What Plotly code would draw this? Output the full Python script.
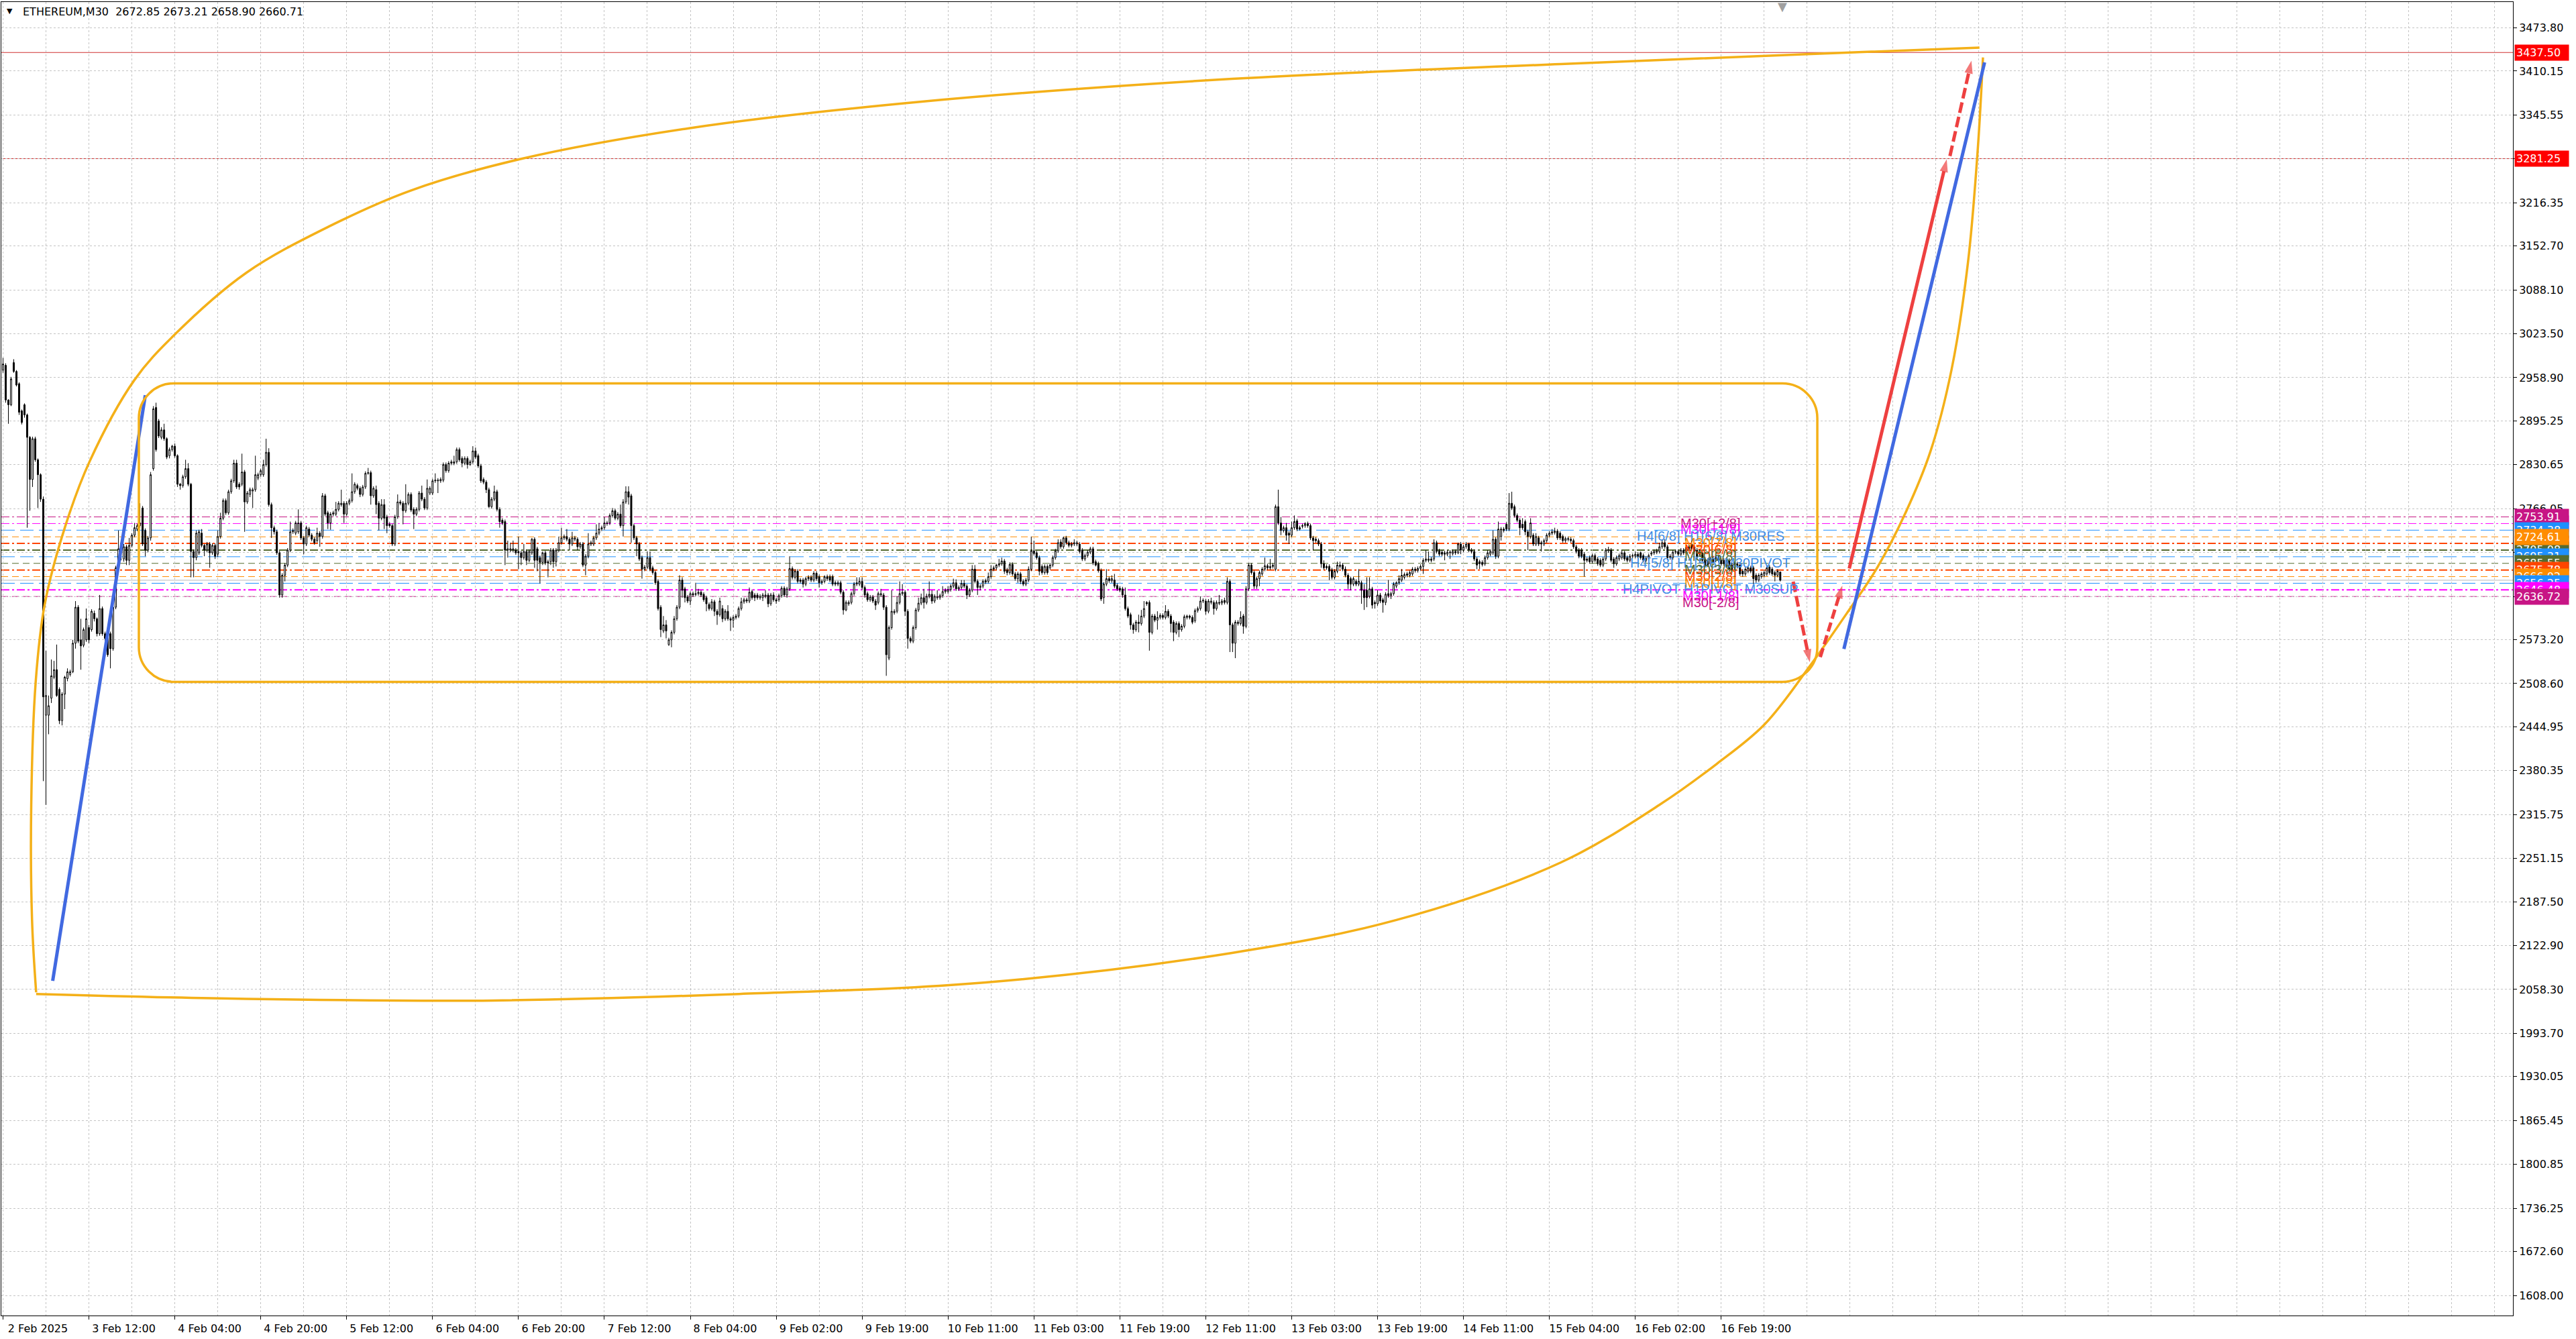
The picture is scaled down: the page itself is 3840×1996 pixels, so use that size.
import plotly.graph_objects as go

# ------------------------------------------------------------------ data
title_text = "ETHEREUM,M30\u00a0\u00a02672.85 2673.21 2658.90 2660.71"

time_labels = ["2 Feb 2025", "3 Feb 12:00", "4 Feb 04:00", "4 Feb 20:00", "5 Feb 12:00",
               "6 Feb 04:00", "6 Feb 20:00", "7 Feb 12:00", "8 Feb 04:00", "9 Feb 02:00",
               "9 Feb 19:00", "10 Feb 11:00", "11 Feb 03:00", "11 Feb 19:00", "12 Feb 11:00",
               "13 Feb 03:00", "13 Feb 19:00", "14 Feb 11:00", "15 Feb 04:00", "16 Feb 02:00",
               "16 Feb 19:00"]
bars_per_label = 32

price_ticks = [3473.80, 3410.15, 3345.55, 3280.95, 3216.35, 3152.70, 3088.10, 3023.50,
               2958.90, 2895.25, 2830.65, 2766.05, 2701.45, 2636.85, 2573.20, 2508.60,
               2444.95, 2380.35, 2315.75, 2251.15, 2187.50, 2122.90, 2058.30, 1993.70,
               1930.05, 1865.45, 1800.85, 1736.25, 1672.60, 1608.00]
hidden_ticks = [3280.95, 2701.45, 2636.85]

opens = [
    2970, 2977, 2926, 2919, 2981, 2968, 2950, 2910, 2919, 2904,
    2871, 2809, 2869, 2838, 2816, 2780, 2462, 2462, 2487, 2518,
    2529, 2500, 2454, 2493, 2516, 2522, 2526, 2568, 2621, 2573,
    2565, 2573, 2591, 2588, 2612, 2604, 2582, 2619, 2582, 2577,
    2582, 2560, 2621, 2679, 2701, 2692, 2710, 2690, 2712, 2727,
    2736, 2741, 2767, 2734, 2705, 2723, 2825, 2915, 2895, 2871,
    2882, 2869, 2844, 2853, 2858, 2844, 2802, 2800, 2813, 2825,
    2802, 2703, 2694, 2701, 2730, 2712, 2705, 2714, 2701, 2712,
    2699, 2725, 2752, 2778, 2760, 2791, 2807, 2833, 2802, 2802,
    2820, 2776, 2787, 2792, 2794, 2811, 2816, 2816, 2831, 2849,
    2772, 2738, 2732, 2701, 2639, 2668, 2683, 2705, 2732, 2730,
    2732, 2745, 2723, 2714,
    2736, 2727, 2721, 2719, 2730, 2725, 2785, 2760, 2745, 2758,
    2758, 2765, 2772, 2774, 2758, 2774, 2778, 2791, 2800, 2796,
    2787, 2798, 2818, 2819, 2785, 2794, 2774, 2752, 2772, 2754,
    2743, 2741, 2714, 2754, 2776, 2774, 2763, 2774, 2787, 2765,
    2758, 2765, 2789, 2780, 2767, 2789, 2789, 2807, 2807, 2807,
    2808, 2831, 2822, 2833, 2833, 2835, 2853, 2840, 2833, 2840,
    2831, 2835, 2851, 2844, 2829, 2809, 2805, 2794, 2769, 2780,
    2791, 2765, 2749, 2747, 2705, 2705, 2705, 2705, 2703, 2701,
    2694, 2703, 2690, 2701, 2721, 2707, 2694, 2687, 2701, 2688,
    2688, 2705, 2688, 2705, 2716, 2723, 2725, 2721, 2714, 2721,
    2721, 2710, 2714, 2683, 2696, 2714, 2714, 2723, 2730, 2736,
    2738, 2744, 2745, 2756, 2763, 2752, 2758, 2741, 2776, 2791,
    2785, 2741, 2723, 2714, 2694, 2677, 2680, 2694, 2679, 2672,
    2659, 2621, 2586, 2595, 2566, 2573, 2584, 2604, 2621, 2661,
    2648, 2636, 2630, 2641, 2641, 2641, 2643, 2640, 2635, 2625,
    2619, 2629, 2615, 2610, 2619, 2604, 2615, 2604, 2602, 2606,
    2608, 2619, 2629, 2632, 2630, 2644, 2639, 2639, 2635, 2635,
    2637, 2639, 2626, 2639, 2632, 2632, 2638, 2649, 2639, 2648,
    2678, 2665, 2674, 2661, 2661, 2655, 2663, 2665, 2661, 2671,
    2666, 2657, 2659, 2666, 2666, 2666, 2657, 2655, 2657, 2643,
    2617, 2626, 2628, 2641, 2655, 2655, 2659, 2650, 2641, 2632,
    2636, 2630, 2628, 2639, 2639, 2621, 2546, 2591, 2613, 2615,
    2628, 2641, 2643, 2615, 2575, 2571, 2591, 2617, 2627, 2635,
    2628, 2637, 2640, 2630, 2635, 2635, 2638, 2644, 2644, 2647,
    2652, 2657, 2648, 2650, 2656, 2652, 2639, 2646, 2677, 2659,
    2650, 2652, 2660, 2659, 2666, 2677, 2679, 2683, 2685, 2689,
    2676, 2672, 2684, 2670, 2663, 2670, 2659, 2655, 2661, 2677,
    2704, 2701, 2694, 2681, 2672, 2681, 2679, 2683, 2694, 2704,
    2717, 2710, 2723, 2716, 2712, 2714, 2714, 2714, 2705, 2692,
    2697, 2702, 2707, 2688, 2685, 2675, 2635, 2655, 2663, 2660,
    2661, 2653, 2649, 2648, 2639, 2619, 2610, 2595, 2588, 2599,
    2597, 2608, 2628, 2628, 2584, 2608, 2602, 2606, 2609, 2606,
    2615, 2608, 2599, 2584, 2597, 2588, 2593, 2606, 2608, 2606,
    2601, 2616, 2619, 2630, 2630, 2615, 2628, 2628, 2619, 2628,
    2627, 2631, 2628, 2659, 2595, 2568, 2597, 2597, 2608, 2593,
    2648, 2683, 2672, 2652, 2663, 2670, 2677, 2682, 2679, 2681,
    2677, 2769, 2745, 2734, 2738, 2730, 2727, 2738, 2748, 2738,
    2740, 2741, 2744, 2741, 2723, 2721, 2719, 2714, 2685, 2681,
    2681, 2676, 2665, 2674, 2681, 2683, 2677, 2668, 2663, 2655,
    2659, 2655, 2657, 2646, 2646, 2637, 2648, 2628, 2626, 2639,
    2632, 2628, 2641, 2638, 2641, 2652, 2657, 2661, 2665, 2670,
    2668, 2670, 2677, 2675, 2678, 2681, 2690, 2690, 2692, 2692,
    2716, 2704, 2702, 2701, 2699, 2701, 2700, 2703, 2701, 2714,
    2705, 2710, 2714, 2705, 2703, 2692, 2688, 2687, 2685, 2694,
    2699, 2701, 2721, 2696, 2725, 2736, 2743, 2736, 2774, 2769,
    2756, 2749, 2743, 2747, 2732, 2725, 2727, 2714, 2723, 2716,
    2714, 2719, 2727, 2730, 2731, 2733, 2730, 2725, 2719, 2722,
    2721, 2719, 2710, 2705, 2705, 2699, 2692, 2694, 2688, 2697,
    2692, 2690, 2683, 2692, 2704, 2705, 2692, 2685, 2692, 2694,
    2701, 2694, 2690, 2696, 2696, 2699, 2701, 2697, 2690, 2693,
    2699, 2701, 2702, 2703, 2710, 2716, 2710, 2696, 2694, 2702,
    2703, 2699, 2705, 2701, 2710, 2714, 2710, 2705, 2703, 2701,
    2692, 2690, 2685, 2692, 2690, 2694, 2690, 2690, 2683, 2690,
    2683, 2679, 2685, 2683, 2674, 2670, 2674, 2679, 2679, 2668,
    2661, 2666, 2668, 2670, 2680, 2677, 2672, 2668, 2672.85,
]

highs = [
    2988, 2980, 2927, 2960, 2986, 2970, 2952, 2912, 2921, 2906,
    2873, 2872, 2872, 2840, 2818, 2784, 2557, 2491, 2544, 2542,
    2566, 2503, 2496, 2520, 2531, 2529, 2573, 2630, 2624, 2604,
    2591, 2619, 2595, 2618, 2616, 2606, 2639, 2622, 2585, 2580,
    2585, 2624, 2682, 2734, 2710, 2714, 2713, 2723, 2730, 2745,
    2744, 2774, 2770, 2737, 2726, 2820, 2917, 2922, 2898, 2886,
    2891, 2871, 2856, 2860, 2862, 2846, 2804, 2816, 2838, 2833,
    2804, 2706, 2734, 2735, 2736, 2714, 2717, 2717, 2715, 2715,
    2734, 2760, 2781, 2781, 2794, 2810, 2838, 2838, 2805, 2847,
    2823, 2792, 2797, 2797, 2844, 2819, 2825, 2838, 2869, 2855,
    2775, 2741, 2735, 2704, 2671, 2686, 2708, 2747, 2737, 2748,
    2765, 2748, 2726, 2741,
    2739, 2730, 2724, 2738, 2733, 2789, 2788, 2763, 2761, 2763,
    2776, 2777, 2794, 2777, 2777, 2781, 2818, 2805, 2803, 2799,
    2801, 2821, 2826, 2822, 2799, 2800, 2777, 2780, 2780, 2757,
    2746, 2744, 2757, 2787, 2779, 2777, 2802, 2790, 2790, 2768,
    2768, 2792, 2800, 2783, 2809, 2799, 2810, 2818, 2811, 2812,
    2834, 2834, 2836, 2838, 2844, 2856, 2856, 2843, 2843, 2843,
    2838, 2858, 2856, 2847, 2832, 2812, 2808, 2797, 2783, 2800,
    2794, 2768, 2752, 2750, 2719, 2716, 2719, 2708, 2725, 2704,
    2714, 2706, 2706, 2723, 2724, 2710, 2697, 2703, 2704, 2691,
    2708, 2708, 2708, 2725, 2738, 2728, 2736, 2724, 2732, 2726,
    2724, 2717, 2717, 2699, 2730, 2719, 2726, 2743, 2745, 2741,
    2754, 2748, 2759, 2767, 2766, 2761, 2772, 2780, 2799, 2799,
    2788, 2744, 2726, 2717, 2697, 2683, 2703, 2703, 2682, 2675,
    2662, 2624, 2608, 2602, 2576, 2587, 2608, 2624, 2668, 2665,
    2651, 2639, 2644, 2644, 2657, 2648, 2646, 2643, 2638, 2628,
    2633, 2632, 2618, 2635, 2624, 2618, 2624, 2607, 2609, 2611,
    2622, 2635, 2635, 2635, 2650, 2647, 2642, 2642, 2640, 2642,
    2646, 2642, 2642, 2643, 2635, 2641, 2652, 2652, 2651, 2696,
    2681, 2677, 2677, 2664, 2664, 2666, 2668, 2668, 2674, 2674,
    2669, 2662, 2668, 2669, 2669, 2669, 2660, 2660, 2660, 2646,
    2631, 2631, 2644, 2658, 2665, 2665, 2665, 2653, 2644, 2639,
    2639, 2633, 2644, 2648, 2642, 2624, 2594, 2646, 2618, 2637,
    2659, 2655, 2646, 2618, 2578, 2594, 2620, 2635, 2641, 2648,
    2641, 2659, 2646, 2640, 2646, 2641, 2652, 2649, 2652, 2655,
    2663, 2662, 2653, 2661, 2661, 2655, 2649, 2683, 2683, 2662,
    2655, 2662, 2663, 2672, 2683, 2682, 2685, 2692, 2694, 2692,
    2679, 2687, 2687, 2673, 2673, 2673, 2662, 2664, 2681, 2725,
    2719, 2704, 2697, 2684, 2684, 2684, 2686, 2697, 2707, 2721,
    2721, 2725, 2726, 2719, 2717, 2721, 2719, 2717, 2708, 2700,
    2705, 2710, 2710, 2691, 2688, 2678, 2658, 2677, 2666, 2668,
    2670, 2656, 2652, 2651, 2650, 2622, 2613, 2598, 2602, 2610,
    2617, 2630, 2630, 2631, 2611, 2611, 2615, 2612, 2612, 2624,
    2618, 2611, 2602, 2600, 2600, 2596, 2610, 2610, 2610, 2609,
    2619, 2622, 2637, 2634, 2633, 2633, 2635, 2631, 2631, 2639,
    2633, 2635, 2665, 2662, 2598, 2602, 2602, 2615, 2611, 2652,
    2686, 2686, 2675, 2666, 2675, 2680, 2694, 2685, 2692, 2686,
    2772, 2794, 2754, 2741, 2745, 2733, 2747, 2756, 2751, 2741,
    2744, 2746, 2747, 2744, 2726, 2724, 2722, 2717, 2690, 2684,
    2684, 2679, 2677, 2688, 2688, 2686, 2681, 2671, 2666, 2666,
    2662, 2677, 2660, 2655, 2665, 2665, 2651, 2631, 2646, 2642,
    2635, 2643, 2661, 2644, 2658, 2659, 2668, 2677, 2672, 2673,
    2675, 2680, 2680, 2681, 2684, 2693, 2705, 2703, 2695, 2721,
    2719, 2707, 2705, 2704, 2705, 2705, 2706, 2706, 2716, 2717,
    2713, 2717, 2716, 2708, 2706, 2695, 2691, 2690, 2697, 2705,
    2706, 2734, 2724, 2747, 2739, 2739, 2746, 2789, 2791, 2772,
    2759, 2752, 2752, 2750, 2735, 2752, 2730, 2730, 2726, 2719,
    2722, 2730, 2733, 2736, 2738, 2736, 2733, 2728, 2725, 2725,
    2724, 2722, 2713, 2708, 2708, 2702, 2695, 2697, 2700, 2700,
    2695, 2693, 2695, 2708, 2710, 2708, 2695, 2697, 2700, 2705,
    2704, 2697, 2699, 2700, 2703, 2702, 2703, 2700, 2696, 2700,
    2704, 2706, 2707, 2716, 2721, 2721, 2713, 2699, 2705, 2706,
    2706, 2708, 2708, 2712, 2713, 2719, 2713, 2708, 2706, 2704,
    2695, 2693, 2695, 2695, 2697, 2697, 2693, 2693, 2692, 2693,
    2686, 2688, 2688, 2686, 2677, 2680, 2682, 2682, 2682, 2671,
    2671, 2673, 2675, 2683, 2683, 2680, 2675, 2677, 2673.21,
]

lows = [
    2966, 2922, 2891, 2917, 2966, 2946, 2904, 2890, 2900, 2738,
    2763, 2798, 2835, 2767, 2776, 2365, 2330, 2434, 2480, 2515,
    2489, 2449, 2447, 2471, 2512, 2519, 2524, 2560, 2568, 2529,
    2562, 2570, 2568, 2585, 2600, 2578, 2579, 2579, 2572, 2548,
    2531, 2557, 2618, 2676, 2690, 2688, 2683, 2683, 2709, 2724,
    2733, 2738, 2711, 2696, 2702, 2719, 2822, 2850, 2870, 2868,
    2866, 2839, 2840, 2850, 2841, 2798, 2794, 2797, 2810, 2799,
    2665, 2665, 2690, 2698, 2709, 2696, 2702, 2679, 2698, 2692,
    2695, 2722, 2749, 2757, 2757, 2788, 2804, 2795, 2794, 2799,
    2732, 2773, 2783, 2767, 2791, 2808, 2813, 2813, 2828, 2769,
    2723, 2728, 2698, 2635, 2635, 2659, 2680, 2702, 2729, 2727,
    2729, 2720, 2699, 2711,
    2724, 2718, 2713, 2716, 2710, 2722, 2755, 2736, 2735, 2755,
    2755, 2762, 2769, 2745, 2755, 2771, 2775, 2788, 2793, 2783,
    2784, 2795, 2816, 2772, 2782, 2758, 2734, 2749, 2736, 2730,
    2738, 2711, 2711, 2751, 2771, 2743, 2760, 2771, 2761, 2736,
    2755, 2762, 2777, 2764, 2764, 2786, 2786, 2804, 2789, 2804,
    2805, 2819, 2819, 2830, 2830, 2832, 2835, 2827, 2830, 2825,
    2829, 2832, 2839, 2826, 2804, 2802, 2789, 2767, 2766, 2777,
    2762, 2738, 2742, 2683, 2694, 2702, 2702, 2698, 2677, 2683,
    2691, 2683, 2687, 2698, 2679, 2674, 2656, 2683, 2683, 2665,
    2683, 2679, 2681, 2702, 2713, 2720, 2718, 2705, 2711, 2718,
    2705, 2707, 2680, 2668, 2693, 2711, 2711, 2720, 2727, 2733,
    2735, 2741, 2742, 2753, 2749, 2749, 2738, 2725, 2773, 2772,
    2716, 2720, 2696, 2689, 2663, 2674, 2677, 2674, 2669, 2654,
    2616, 2577, 2583, 2575, 2564, 2562, 2581, 2601, 2618, 2635,
    2628, 2627, 2624, 2636, 2637, 2638, 2636, 2629, 2615, 2616,
    2616, 2608, 2595, 2607, 2599, 2601, 2601, 2586, 2591, 2603,
    2605, 2616, 2626, 2627, 2627, 2632, 2630, 2632, 2632, 2630,
    2634, 2621, 2623, 2629, 2626, 2629, 2635, 2636, 2635, 2645,
    2662, 2662, 2656, 2656, 2650, 2652, 2660, 2658, 2658, 2660,
    2650, 2654, 2656, 2660, 2658, 2652, 2652, 2652, 2640, 2610,
    2615, 2623, 2625, 2638, 2652, 2652, 2647, 2635, 2629, 2629,
    2627, 2617, 2625, 2636, 2617, 2520, 2543, 2588, 2610, 2612,
    2625, 2638, 2608, 2560, 2568, 2568, 2588, 2614, 2624, 2619,
    2625, 2634, 2626, 2627, 2632, 2632, 2635, 2641, 2641, 2644,
    2649, 2645, 2645, 2647, 2649, 2633, 2636, 2643, 2656, 2639,
    2646, 2649, 2655, 2656, 2663, 2674, 2676, 2680, 2682, 2670,
    2668, 2669, 2667, 2660, 2657, 2655, 2652, 2652, 2658, 2674,
    2697, 2691, 2668, 2669, 2669, 2669, 2676, 2680, 2691, 2701,
    2707, 2707, 2713, 2709, 2709, 2711, 2711, 2700, 2689, 2689,
    2694, 2699, 2683, 2681, 2672, 2630, 2626, 2652, 2657, 2657,
    2649, 2645, 2643, 2635, 2616, 2605, 2588, 2582, 2585, 2584,
    2594, 2605, 2623, 2557, 2581, 2599, 2588, 2603, 2603, 2603,
    2605, 2584, 2571, 2581, 2577, 2585, 2590, 2603, 2603, 2596,
    2598, 2613, 2616, 2627, 2610, 2612, 2625, 2610, 2616, 2624,
    2624, 2625, 2625, 2555, 2555, 2546, 2594, 2594, 2582, 2590,
    2645, 2669, 2648, 2648, 2652, 2667, 2674, 2676, 2676, 2678,
    2674, 2742, 2727, 2731, 2719, 2714, 2724, 2735, 2733, 2734,
    2737, 2738, 2738, 2720, 2705, 2716, 2711, 2679, 2676, 2676,
    2661, 2662, 2662, 2671, 2678, 2674, 2665, 2648, 2646, 2652,
    2652, 2652, 2626, 2617, 2621, 2634, 2619, 2619, 2623, 2627,
    2613, 2624, 2635, 2633, 2638, 2649, 2654, 2658, 2662, 2665,
    2665, 2667, 2672, 2672, 2675, 2670, 2687, 2687, 2687, 2689,
    2700, 2696, 2696, 2690, 2696, 2692, 2697, 2698, 2699, 2699,
    2702, 2707, 2702, 2700, 2689, 2677, 2677, 2681, 2682, 2691,
    2696, 2698, 2692, 2693, 2719, 2731, 2733, 2733, 2764, 2753,
    2746, 2727, 2735, 2727, 2705, 2722, 2711, 2711, 2711, 2703,
    2711, 2716, 2724, 2727, 2728, 2720, 2720, 2716, 2716, 2718,
    2716, 2707, 2700, 2693, 2693, 2666, 2687, 2685, 2685, 2687,
    2682, 2680, 2680, 2689, 2701, 2687, 2679, 2682, 2689, 2691,
    2689, 2687, 2687, 2693, 2693, 2693, 2691, 2687, 2687, 2690,
    2696, 2698, 2699, 2700, 2707, 2707, 2690, 2691, 2691, 2699,
    2696, 2696, 2698, 2698, 2704, 2704, 2700, 2693, 2696, 2687,
    2680, 2680, 2682, 2685, 2687, 2687, 2682, 2682, 2680, 2674,
    2674, 2676, 2678, 2667, 2666, 2667, 2671, 2671, 2655, 2657,
    2658, 2663, 2665, 2667, 2669, 2667, 2659, 2665, 2658.90,
]

closes = [
    2979, 2926, 2919, 2957, 2968, 2948, 2908, 2893, 2904, 2871,
    2809, 2869, 2838, 2816, 2780, 2489, 2491, 2476, 2520, 2529,
    2491, 2454, 2493, 2518, 2526, 2526, 2568, 2621, 2571, 2564,
    2588, 2604, 2573, 2615, 2604, 2582, 2619, 2582, 2575, 2551,
    2560, 2621, 2679, 2707, 2705, 2710, 2690, 2712, 2727, 2738,
    2741, 2745, 2714, 2705, 2723, 2816, 2913, 2853, 2873, 2882,
    2869, 2842, 2853, 2858, 2844, 2802, 2800, 2813, 2825, 2802,
    2703, 2694, 2730, 2732, 2712, 2705, 2714, 2701, 2712, 2696,
    2725, 2752, 2778, 2760, 2791, 2807, 2833, 2798, 2798, 2820,
    2776, 2789, 2794, 2794, 2816, 2816, 2822, 2831, 2849, 2772,
    2738, 2732, 2701, 2639, 2668, 2683, 2705, 2732, 2734, 2745,
    2745, 2723, 2714, 2738,
    2727, 2721, 2716, 2730, 2725, 2785, 2758, 2745, 2758, 2760,
    2765, 2774, 2774, 2758, 2774, 2778, 2791, 2802, 2796, 2787,
    2798, 2818, 2819, 2785, 2796, 2772, 2752, 2772, 2752, 2741,
    2741, 2714, 2754, 2776, 2774, 2763, 2774, 2787, 2764, 2758,
    2765, 2789, 2780, 2767, 2796, 2796, 2807, 2808, 2808, 2809,
    2831, 2822, 2833, 2835, 2835, 2853, 2838, 2833, 2840, 2831,
    2835, 2851, 2842, 2829, 2807, 2805, 2794, 2769, 2780, 2791,
    2765, 2747, 2745, 2705, 2707, 2707, 2707, 2701, 2701, 2694,
    2703, 2690, 2703, 2721, 2690, 2690, 2687, 2701, 2686, 2686,
    2705, 2688, 2705, 2716, 2723, 2725, 2721, 2714, 2723, 2723,
    2710, 2714, 2683, 2696, 2714, 2716, 2723, 2730, 2736, 2738,
    2745, 2745, 2756, 2763, 2752, 2758, 2741, 2776, 2791, 2783,
    2741, 2723, 2714, 2692, 2677, 2680, 2694, 2677, 2672, 2657,
    2619, 2588, 2595, 2586, 2573, 2584, 2604, 2621, 2661, 2646,
    2635, 2630, 2641, 2639, 2640, 2643, 2639, 2632, 2626, 2619,
    2629, 2615, 2610, 2630, 2604, 2615, 2604, 2602, 2606, 2608,
    2619, 2629, 2632, 2630, 2643, 2635, 2635, 2635, 2637, 2639,
    2639, 2626, 2639, 2632, 2630, 2638, 2649, 2639, 2648, 2678,
    2665, 2674, 2659, 2659, 2655, 2663, 2665, 2661, 2671, 2663,
    2657, 2659, 2666, 2663, 2661, 2655, 2655, 2657, 2643, 2617,
    2628, 2628, 2641, 2655, 2657, 2659, 2650, 2639, 2632, 2636,
    2630, 2624, 2641, 2641, 2621, 2551, 2591, 2615, 2615, 2628,
    2641, 2643, 2615, 2575, 2571, 2591, 2617, 2627, 2635, 2628,
    2637, 2640, 2630, 2637, 2636, 2638, 2644, 2646, 2647, 2652,
    2657, 2648, 2650, 2656, 2652, 2639, 2646, 2677, 2659, 2650,
    2652, 2659, 2658, 2666, 2677, 2679, 2683, 2685, 2689, 2674,
    2672, 2684, 2670, 2663, 2670, 2659, 2655, 2661, 2677, 2704,
    2700, 2694, 2674, 2672, 2681, 2672, 2683, 2694, 2704, 2716,
    2710, 2723, 2716, 2712, 2714, 2716, 2716, 2703, 2692, 2697,
    2702, 2707, 2686, 2683, 2675, 2633, 2655, 2663, 2660, 2663,
    2652, 2648, 2646, 2639, 2619, 2608, 2595, 2588, 2599, 2597,
    2608, 2619, 2626, 2584, 2608, 2602, 2606, 2609, 2606, 2615,
    2608, 2597, 2584, 2597, 2588, 2593, 2607, 2608, 2606, 2599,
    2616, 2619, 2630, 2631, 2615, 2630, 2630, 2619, 2628, 2627,
    2630, 2628, 2659, 2595, 2568, 2599, 2599, 2606, 2593, 2648,
    2683, 2672, 2652, 2663, 2672, 2677, 2682, 2679, 2681, 2683,
    2769, 2745, 2734, 2738, 2727, 2727, 2738, 2747, 2736, 2736,
    2741, 2744, 2741, 2723, 2719, 2719, 2714, 2685, 2679, 2679,
    2674, 2665, 2674, 2683, 2683, 2677, 2668, 2655, 2655, 2663,
    2655, 2659, 2646, 2635, 2635, 2648, 2624, 2626, 2639, 2630,
    2628, 2640, 2638, 2641, 2655, 2657, 2663, 2668, 2669, 2668,
    2672, 2677, 2675, 2678, 2681, 2690, 2692, 2692, 2690, 2716,
    2703, 2699, 2699, 2699, 2702, 2702, 2703, 2701, 2714, 2705,
    2710, 2714, 2705, 2703, 2692, 2683, 2685, 2684, 2694, 2701,
    2703, 2721, 2696, 2736, 2736, 2734, 2736, 2774, 2767, 2756,
    2749, 2738, 2738, 2732, 2725, 2745, 2714, 2725, 2714, 2714,
    2719, 2727, 2730, 2732, 2733, 2723, 2723, 2719, 2722, 2721,
    2719, 2710, 2703, 2696, 2696, 2690, 2690, 2688, 2697, 2690,
    2685, 2683, 2692, 2705, 2706, 2690, 2685, 2694, 2697, 2701,
    2692, 2690, 2696, 2697, 2699, 2696, 2694, 2690, 2693, 2697,
    2701, 2703, 2704, 2710, 2716, 2710, 2694, 2694, 2702, 2703,
    2699, 2705, 2701, 2709, 2707, 2707, 2703, 2696, 2699, 2690,
    2683, 2683, 2692, 2688, 2694, 2690, 2685, 2685, 2690, 2677,
    2677, 2685, 2681, 2670, 2670, 2677, 2679, 2674, 2663, 2661,
    2668, 2670, 2672, 2679, 2672, 2670, 2668, 2674, 2660.71,
]

# Murrey math levels (top to bottom) and their names
murrey_levels = [2753.91, 2744.14, 2734.38, 2724.61, 2714.84, 2705.08, 2695.31,
                 2685.55, 2675.78, 2666.02, 2656.25, 2646.48, 2636.72]
murrey_names = ["M30[+2/8]", "M30[+1/8]", "H4[6/8] H1[6/8] M30RES", "M30[7/8]", "M30[6/8]",
                "M30[5/8]", "H4[5/8] H1[5/8] M30PIVOT", "M30[3/8]", "M30[2/8]", "M30[1/8]",
                "H4PIVOT H1PIVOT M30SUP", "M30[-1/8]", "M30[-2/8]"]
target_levels = [3437.50, 3281.25]
bid_price = 2660.71

# hand-drawn objects, in (bar index, price)
range_box_x = [50.6, 675.8]
range_box_y = [2511.1, 2950.4]
lens_top_x = [12.34, 10.81, 10.51, 12.22, 15.52, 23.05, 32.23, 48.87, 63.74, 90.67, 121.26,
              151.86, 192.24, 255.88, 341.54, 457.8, 580.2, 672.0, 736.2]
lens_top_y = [2054.1, 2160.6, 2329.8, 2513.6, 2624.9, 2738.5, 2835.3, 2955.0, 3021.5, 3113.4,
              3181.1, 3234.3, 3280.2, 3326.2, 3364.9, 3398.7, 3420.5, 3435.0, 3444.7]
lens_bot_x = [12.34, 90.7, 182.5, 274.2, 366.0, 457.8, 519.0, 580.2, 616.9, 638.3, 656.1,
              673.2, 687.3, 698.3, 708.7, 717.9, 725.8, 731.9, 735.6, 737.5]
lens_bot_y = [2051.7, 2044.5, 2042.1, 2051.7, 2068.6, 2112.2, 2160.6, 2245.2, 2329.8, 2390.3,
              2448.3, 2535.4, 2615.0, 2680.5, 2760.3, 2849.8, 2970.7, 3127.9, 3297.1, 3430.2]
blue_leg1_x = [18.5, 53.0]
blue_leg1_y = [2071.0, 2933.0]
blue_leg2_x = [685.7, 738.1]
blue_leg2_y = [2559.6, 3422.9]
red_up_x = [687.7, 724.0]
red_up_y = [2678.1, 3280.2]
red_up2_x = [725.2, 733.2]
red_up2_y = [3285.1, 3425.3]
red_down_x = [666.8, 673.0]
red_down_y = [2658.7, 2540.2]
red_rebound_x = [676.9, 685.1]
red_rebound_y = [2547.5, 2652.7]
label_bar = 636

# ------------------------------------------------------------------ styles
FONT = "DejaVu Sans, Verdana, sans-serif"
LABEL_FONT = "Arial, Liberation Sans, sans-serif"
GRID = "#C4C4C4"
ORANGE = "#F4B018"
BLUE = "#4169E1"
RED = "#EE4040"
TEXT_BLUE = "#3F8DE6"
murrey_colors = ["#C71585", "#FF00FF", "#1E90FF", "#FF8C00", "#FF4500", "#556B2F", "#1E90FF",
                 "#556B2F", "#FF4500", "#FF8C00", "#1E90FF", "#FF00FF", "#C71585"]
murrey_text_colors = ["#C71585", "#FF00FF", TEXT_BLUE, "#FF8C00", "#FF4500", "#556B2F", TEXT_BLUE,
                      "#556B2F", "#FF4500", "#FF8C00", TEXT_BLUE, "#FF00FF", "#C71585"]
murrey_dash = ["12px,4px,3px,4px", "12px,4px,3px,4px", "20px,8px", "10px,6px", "12px,4px,3px,4px",
               "12px,4px,3px,4px", "20px,8px", "10px,6px", "12px,4px,3px,4px", "10px,6px",
               "20px,8px", "12px,4px,3px,4px", "10px,6px"]
murrey_width = [1, 1, 1, 1, 2, 2, 1, 1, 2, 1, 1, 2, 1]

# pixel geometry of the MT4 window
W, H = 3840, 1996
PL, PR, PT, PB = 2, 3746, 3, 1961
FIRST_BAR_PX, BAR_PX = 4.5, 4.002
x_lo = (PL - FIRST_BAR_PX) / BAR_PX
x_hi = (PR - FIRST_BAR_PX) / BAR_PX
y_hi, y_lo = 3511.8, 1578.4

n = min(len(opens), len(highs), len(lows), len(closes))
xs = list(range(n))
o, c = opens[:n], closes[:n]
h = [max(a, b, d) for a, b, d in zip(highs[:n], o, c)]
l = [min(a, b, d) for a, b, d in zip(lows[:n], o, c)]

fig = go.Figure()
fig.add_trace(go.Candlestick(
    x=xs, open=o, high=h, low=l, close=c,
    increasing=dict(line=dict(color="black", width=1), fillcolor="white"),
    decreasing=dict(line=dict(color="black", width=1), fillcolor="black"),
    whiskerwidth=0, showlegend=False, hoverinfo="skip"))

# lens-shaped curve
for lx, ly in [(lens_top_x, lens_top_y), (lens_bot_x, lens_bot_y)]:
    fig.add_trace(go.Scatter(x=lx, y=ly, mode="lines",
                             line=dict(color=ORANGE, width=3.5, shape="spline", smoothing=1.0),
                             hoverinfo="skip", showlegend=False))
# blue legs
for bx, by in [(blue_leg1_x, blue_leg1_y), (blue_leg2_x, blue_leg2_y)]:
    fig.add_trace(go.Scatter(x=bx, y=by, mode="lines", line=dict(color=BLUE, width=5),
                             hoverinfo="skip", showlegend=False))
# red arrows
for rx_, ry_, dash in [(red_up_x, red_up_y, "solid"), (red_up2_x, red_up2_y, "16px,6px"),
                       (red_down_x, red_down_y, "16px,6px"), (red_rebound_x, red_rebound_y, "14px,6px")]:
    fig.add_trace(go.Scatter(x=rx_, y=ry_, mode="lines+markers",
                             line=dict(color=RED, width=5, dash=dash),
                             marker=dict(symbol=["circle", "arrow"], size=[0, 20], angleref="previous",
                                         color=RED, line=dict(width=0)),
                             hoverinfo="skip", showlegend=False))

shapes = []
for lv, col, ds, wd in zip(murrey_levels, murrey_colors, murrey_dash, murrey_width):
    shapes.append(dict(type="line", xref="paper", x0=0, x1=1, yref="y", y0=lv, y1=lv,
                       line=dict(color=col, width=wd, dash=ds), layer="below"))
for lv in target_levels:
    shapes.append(dict(type="line", xref="paper", x0=0, x1=1, yref="y", y0=lv, y1=lv,
                       line=dict(color="#D03030", width=1), layer="below"))
shapes.append(dict(type="line", xref="paper", x0=0, x1=1, yref="y", y0=bid_price, y1=bid_price,
                   line=dict(color="#B8B8B8", width=1), layer="below"))

# rounded range box
x0, x1 = range_box_x
y0, y1 = range_box_y
rx, ry, k = 13.0, 51.0, 0.5523
path = (f"M {x0+rx},{y1} L {x1-rx},{y1} "
        f"C {x1-rx+k*rx},{y1} {x1},{y1-ry+k*ry} {x1},{y1-ry} "
        f"L {x1},{y0+ry} "
        f"C {x1},{y0+ry-k*ry} {x1-rx+k*rx},{y0} {x1-rx},{y0} "
        f"L {x0+rx},{y0} "
        f"C {x0+rx-k*rx},{y0} {x0},{y0+ry-k*ry} {x0},{y0+ry} "
        f"L {x0},{y1-ry} "
        f"C {x0},{y1-ry+k*ry} {x0+rx-k*rx},{y1} {x0+rx},{y1} Z")
shapes.append(dict(type="path", xref="x", yref="y", path=path,
                   line=dict(color=ORANGE, width=3.5), fillcolor="rgba(0,0,0,0)", layer="above"))

annotations = []
for lv, name, col in zip(murrey_levels, murrey_names, murrey_text_colors):
    annotations.append(dict(x=label_bar, y=lv, xref="x", yref="y", text=name, showarrow=False,
                            xanchor="center", yanchor="middle", yshift=-9,
                            font=dict(family=LABEL_FONT, size=20, color=col)))
order = [1, 0, 2, 4, 5, 6, 7, 8, 9, 10, 11, 12, 3]
for i in order:
    annotations.append(dict(x=1, xref="paper", xshift=2, xanchor="left", y=murrey_levels[i], yref="y",
                            text=f"{murrey_levels[i]:.2f}", showarrow=False, bgcolor=murrey_colors[i],
                            width=76, align="left", borderpad=2,
                            font=dict(family=FONT, size=16, color="white")))
for lv in target_levels:
    annotations.append(dict(x=1, xref="paper", xshift=2, xanchor="left", y=lv, yref="y",
                            text=f"{lv:.2f}", showarrow=False, bgcolor="#FF0000",
                            width=76, align="left", borderpad=2,
                            font=dict(family=FONT, size=16, color="white")))
annotations.append(dict(x=0, xref="paper", xshift=6, xanchor="left", y=1, yref="paper", yanchor="top",
                        yshift=-5, text="\u25BC", showarrow=False, font=dict(family=FONT, size=11, color="black")))
annotations.append(dict(x=0, xref="paper", xshift=30, xanchor="left", y=1, yref="paper", yanchor="top",
                        yshift=-3, text=title_text, showarrow=False, font=dict(family=FONT, size=16, color="black")))
annotations.append(dict(x=n - 0.3, xref="x", xanchor="center", y=1, yref="paper", yanchor="top",
                        yshift=6, text="\u25BC", showarrow=False, font=dict(family=FONT, size=18, color="#A0A0A0")))

major_vals = [i * bars_per_label for i in range(len(time_labels))]
minor_vals = [v for v in range(16, int(x_hi) + 1, 16) if v not in major_vals]
y_text = ["" if t in hidden_ticks else f"{t:.2f}" for t in price_ticks]

fig.update_layout(
    width=W, height=H,
    margin=dict(l=PL, r=W - PR, t=PT, b=H - PB, pad=0),
    paper_bgcolor="white", plot_bgcolor="white", showlegend=False,
    font=dict(family=FONT, size=16, color="black"),
    shapes=shapes, annotations=annotations,
    xaxis=dict(range=[x_lo, x_hi], tickmode="array", tickvals=major_vals, ticktext=time_labels,
               ticks="outside", ticklen=5, tickcolor="black", tickangle=0, ticklabelshift=52,
               showgrid=True, gridcolor=GRID, griddash="3px,3px", gridwidth=1,
               showline=True, linecolor="black", linewidth=1, mirror=True, zeroline=False,
               rangeslider=dict(visible=False), fixedrange=True,
               tickfont=dict(family=FONT, size=16, color="black"),
               minor=dict(tickvals=minor_vals, showgrid=True, gridcolor=GRID, griddash="3px,3px",
                          gridwidth=1, ticks="")),
    yaxis=dict(side="right", range=[y_lo, y_hi], tickmode="array", tickvals=price_ticks, ticktext=y_text,
               ticks="outside", ticklen=5, tickcolor="black",
               showgrid=True, gridcolor=GRID, griddash="3px,3px", gridwidth=1,
               showline=True, linecolor="black", linewidth=1, mirror=True, zeroline=False,
               fixedrange=True, tickfont=dict(family=FONT, size=16, color="black")),
)

fig.write_html("out.html", config={"displayModeBar": False},
               post_script="document.body.style.margin='0';document.body.style.overflow='hidden';")
